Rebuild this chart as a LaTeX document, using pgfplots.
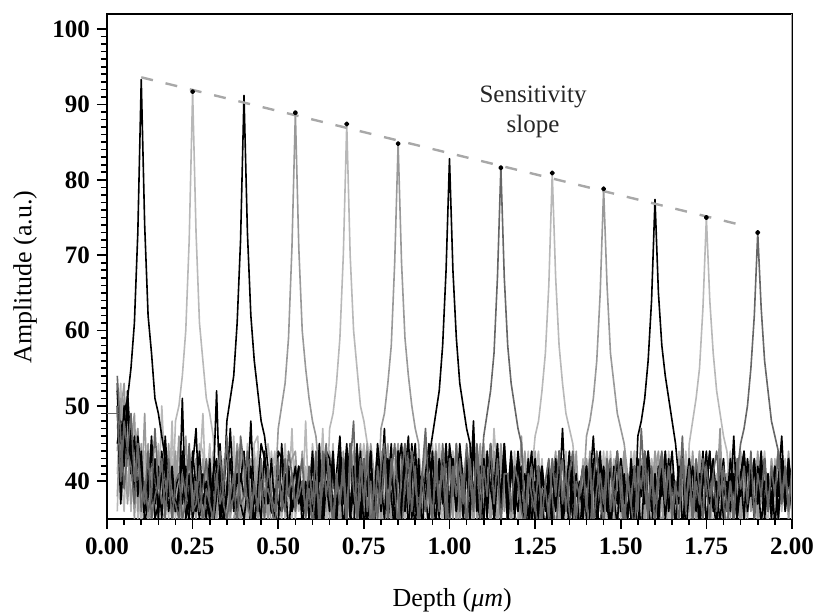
\documentclass[border=0pt]{standalone}
\usepackage{fontspec}
\setmainfont{Liberation Serif}
\usepackage{pgfplots}
\usepackage{pgfplotstable}
\pgfplotsset{compat=1.18}
\definecolor{clight}{HTML}{B8B8B8}
\definecolor{cmid}{HTML}{999999}
\definecolor{cdark}{HTML}{666666}
\definecolor{cdash}{HTML}{A8A8A8}
\pgfplotstableread{
x s1 s2 s3 s4 s5 s6 s7 s8 s9 s10 s11 s12 s13
0.03 52 47 53 44 51 38 50 54 41 49 45 36 50
0.04 45 53 39 51 42 49 37 46 52 43 48 50 40
0.05 49 40 50 46 36 53 44 39 47 51 42 45 48
0.06 51 48 43 37 47 42 50 44 38 46 52 39 44
0.07 55 36 47 45 40 48 41 49 45 37 44 47 42
0.08 61 45 38 49 44 35 46 40 48 42 39 46 37
0.09 73 41 46 36 47 44 38 45 35 47 43 40 45
0.10 93.3 38 41 45 35 39 44 36 40 37 43 34 39
0.11 74 42 36 38 44 37 34 40 39 49 36 41 37
0.12 62 35 43 37 39 45 38 36 42 35 40 38 44
0.13 57 40 37 34 42 36 46 38 35 41 44 39 35
0.14 51 36 43 40 36 41 37 47 38 36 35 42 38
0.15 49 41 35 38 45 35 42 39 43 44 37 36 40
0.16 46 37 44 36 38 41 35 43 34 39 41 50 37
0.17 43 45 37 35 40 38 46 35 41 36 42 40 39
0.18 38 38 42 44 35 37 39 43 36 45 36 37 41
0.19 42 35 36 39 43 36 41 38 48 34 40 44 35
0.20 36 48 39 44 37 42 36 37 35 38 37 43 40
0.21 39 50 41 35 45 36 38 35 42 46 36 34 41
0.22 43 54 37 38 36 35 44 41 38 37 51 39 35
0.23 37 60 42 46 34 39 37 38 43 40 35 41 37
0.24 41 72 36 37 38 43 35 44 36 40 38 37 45
0.25 35 91.7 44 40 36 37 42 36 39 34 41 40 36
0.26 38 73 39 35 42 41 47 37 35 43 36 35 40
0.27 44 61 35 39 37 38 36 42 41 36 40 45 36
0.28 37 56 41 43 35 36 40 34 49 35 38 44 39
0.29 40 51 37 36 39 35 38 39 37 42 35 37 43
0.30 36 49 43 38 45 40 35 37 39 33 41 39 37
0.31 41 46 34 41 37 42 39 35 44 38 36 36 35
0.32 43 39 38 36 40 35 52 40 34 37 42 35 41
0.33 35 41 45 39 35 41 37 44 38 36 42 40 37
0.34 39 36 37 42 39 38 34 37 41 40 35 43 39
0.35 45 40 48 35 44 40 38 35 36 43 39 34 46
0.36 37 42 51 40 41 35 43 38 45 35 47 38 36
0.37 40 44 54 37 44 39 36 41 42 35 38 46 38
0.38 36 39 61 43 35 45 41 33 39 38 41 36 44
0.39 41 37 72 34 39 42 37 46 35 45 40 39 37
0.40 38 43 91.2 39 36 40 35 42 38 34 44 42 38
0.41 42 35 73 41 45 36 39 37 33 40 38 35 44
0.42 33 40 62 37 35 39 48 35 38 43 42 37 36
0.43 39 38 56 43 41 35 37 40 44 37 34 45 39
0.44 36 44 52 35 38 42 38 36 40 35 39 46 37
0.45 42 35 48 38 34 38 35 43 37 41 45 37 40
0.46 37 39 46 41 43 36 44 38 35 38 43 39 35
0.47 40 37 42 36 35 41 37 39 45 35 40 35 42
0.48 38 44 36 40 38 33 43 37 41 39 36 40 38
0.49 35 39 39 38 42 39 36 34 38 42 35 44 36
0.50 44 36 37 47 37 41 34 40 36 35 41 36 43
0.51 43 40 36 50 35 38 45 38 40 37 39 42 36
0.52 37 38 41 53 40 36 38 36 45 39 37 35 43
0.53 41 42 33 59 38 35 42 44 37 41 40 37 38
0.54 36 38 39 71 47 39 37 41 35 43 36 40 41
0.55 39 36 42 88.9 35 41 38 37 40 44 38 43 36
0.56 42 40 37 71 39 37 41 38 36 37 42 38 40
0.57 37 35 40 60 37 44 36 40 39 40 34 36 43
0.58 40 39 36 55 42 38 39 36 41 36 38 48 35
0.59 35 41 38 51 38 40 37 42 37 39 40 36 39
0.60 40 35 44 48 42 33 43 37 45 39 36 41 34
0.61 34 43 37 46 36 41 35 44 39 33 42 38 40
0.62 42 38 34 41 44 37 45 33 36 43 38 45 36
0.63 36 47 41 35 39 43 33 41 43 37 34 40 44
0.64 43 34 44 42 35 36 40 45 34 41 44 33 38
0.65 38 41 38 36 47 44 36 38 42 35 43 39 42
0.66 44 33 42 43 49 39 43 35 37 44 36 45 33
0.67 35 40 36 38 53 40 34 41 40 36 41 35 40
0.68 41 45 43 34 59 36 44 37 33 42 46 42 37
0.69 39 36 33 44 70 43 38 41 40 34 37 34 43
0.70 45 42 40 37 87.4 35 42 33 44 41 43 40 35
0.71 36 34 45 42 70 41 36 45 37 44 35 43 42
0.72 42 43 37 35 60 44 33 39 42 36 39 36 48
0.73 37 38 43 41 55 37 44 35 34 43 45 41 34
0.74 44 33 35 45 50 42 39 43 41 37 33 44 39
0.75 33 41 42 36 48 35 43 37 45 40 42 35 43
0.76 40 45 38 43 45 39 34 44 36 45 38 42 36
0.77 43 36 44 33 41 45 41 33 42 35 44 38 40
0.78 35 40 33 40 36 41 37 40 41 40 36 41 34
0.79 42 37 41 44 43 36 45 35 38 38 43 33 42
0.80 39 44 36 35 34 47 40 42 33 44 37 41 37
0.81 47 33 43 42 40 49 35 45 41 35 45 37 43
0.82 34 41 39 45 44 53 43 36 37 43 40 44 35
0.83 41 35 45 37 35 58 38 43 44 33 42 36 41
0.84 37 43 34 41 42 69 33 39 35 41 37 43 45
0.85 44 39 42 34 45 84.8 42 34 40 45 44 36 38
0.86 36 45 37 43 36 69 45 41 43 38 34 42 33
0.87 42 36 44 39 43 59 36 45 34 42 41 45 40
0.88 38 42 33 45 34 54 43 37 42 36 46 38 43
0.89 45 34 41 36 41 50 38 44 37 44 35 43 36
0.90 36 43 45 42 37 47 34 40 45 34 43 37 42
0.91 43 40 35 33 44 45 41 35 38 43 38 44 34
0.92 33 40 41 41 38 36 40 41 33 39 40 35 41
0.93 41 37 38 45 33 42 37 36 43 45 36 42 47
0.94 45 43 34 37 42 38 43 41 35 37 43 33 38
0.95 37 35 44 43 36 44 46 34 42 41 40 45 35
0.96 42 41 37 34 45 35 49 44 36 44 34 39 42
0.97 35 45 43 40 39 43 52 37 45 35 42 43 36
0.98 44 36 40 44 34 41 58 42 38 43 37 36 45
0.99 39 42 33 36 43 45 68 35 43 38 45 42 39
1.00 34 38 45 42 37 36 82.8 43 34 44 36 44 33
1.01 43 44 41 35 44 43 68 38 41 36 43 37 42
1.02 36 34 36 45 38 34 59 45 37 42 38 45 38
1.03 45 41 43 38 35 42 53 36 44 34 44 35 43
1.04 40 41 35 41 40 37 50 41 35 40 36 41 37
1.05 33 37 44 36 41 44 47 34 43 39 42 44 45
1.06 42 45 38 44 33 39 45 43 38 44 35 38 40
1.07 37 35 48 34 43 45 38 37 45 35 45 34 36
1.08 44 42 36 41 37 35 43 45 36 42 39 43 44
1.09 35 38 42 45 44 43 36 39 43 37 34 40 35
1.10 43 45 34 37 40 38 42 46 34 45 43 35 42
1.11 38 36 44 42 35 44 35 49 42 40 37 44 38
1.12 45 43 39 35 43 36 44 52 37 34 44 36 45
1.13 34 40 36 44 38 42 39 57 47 43 35 42 37
1.14 41 33 43 38 45 34 45 67 40 37 42 45 43
1.15 37 44 35 45 36 43 37 81.6 35 44 38 37 34
1.16 44 37 45 40 42 38 43 67 43 36 45 43 41
1.17 36 40 38 34 35 41 34 58 38 40 37 38 41
1.18 43 35 44 42 44 36 42 53 44 34 43 35 36
1.19 39 41 37 36 38 42 38 50 36 41 35 44 42
1.20 36 40 43 33 42 37 44 47 32 39 41 35 40
1.21 41 34 38 40 35 46 39 45 40 33 42 37 36
1.22 37 42 33 44 39 36 41 35 43 40 36 39 34
1.23 43 36 40 37 32 41 35 41 36 42 34 44 39
1.24 34 41 44 35 38 44 40 38 41 37 39 33 42
1.25 40 37 35 42 41 33 43 36 46 44 35 40 37
1.26 36 43 39 38 44 40 34 42 48 35 42 38 33
1.27 42 33 42 34 36 38 41 35 52 40 38 43 39
1.28 38 40 36 39 33 39 37 40 57 39 33 36 39
1.29 33 43 41 36 40 35 42 43 66 37 40 41 35
1.30 41 36 34 43 37 40 35 38 80.9 33 42 37 43
1.31 37 41 43 39 34 44 39 33 67 41 36 34 38
1.32 44 35 38 33 42 37 43 39 58 36 41 40 44
1.33 35 39 47 40 38 33 36 43 53 39 34 43 37
1.34 40 43 37 36 44 39 40 36 49 42 38 35 41
1.35 36 34 41 42 35 43 33 41 47 35 44 39 36
1.36 43 38 35 37 40 36 42 44 45 40 37 42 33
1.37 34 42 40 44 33 41 38 35 40 36 41 36 40
1.38 39 36 39 35 40 34 40 39 37 39 33 40 38
1.39 42 40 36 39 37 42 35 42 43 38 39 37 42
1.40 35 33 42 43 43 38 41 37 35 46 42 33 36
1.41 40 41 37 34 39 44 36 33 40 48 35 41 43
1.42 46 37 33 41 35 36 43 40 42 51 40 38 34
1.43 37 42 41 36 42 40 34 44 36 56 37 44 39
1.44 33 38 44 40 36 43 39 38 33 65 43 36 41
1.45 41 44 36 35 41 35 42 34 41 78.8 36 40 37
1.46 36 35 40 43 33 39 37 41 44 66 41 34 43
1.47 42 39 34 38 44 42 33 43 38 57 34 42 36
1.48 38 43 42 33 38 37 40 36 35 53 39 38 40
1.49 34 36 37 41 42 33 44 40 42 49 43 35 44
1.50 43 41 43 36 35 40 36 42 37 47 37 43 38
1.51 37 34 39 44 40 44 41 35 43 45 35 39 33
1.52 40 40 35 39 34 38 35 40 36 41 40 36 41
1.53 35 38 41 35 43 41 43 37 40 36 38 44 37
1.54 42 44 36 42 37 34 38 33 44 40 34 40 42
1.55 39 37 43 37 41 43 33 42 38 35 46 35 36
1.56 33 41 38 40 35 39 42 39 34 43 48 42 47
1.57 41 35 44 34 42 36 37 44 41 38 51 37 39
1.58 44 40 37 43 38 42 44 36 37 42 56 33 35
1.59 36 43 33 38 33 37 39 41 43 35 64 41 42
1.60 40 36 41 42 44 44 35 34 39 41 77.4 38 37
1.61 34 42 36 35 39 40 42 40 35 44 65 43 41
1.62 42 37 42 41 36 33 38 43 42 37 58 36 44
1.63 38 44 35 44 42 41 44 37 36 33 54 40 38
1.64 43 39 40 37 37 36 36 42 44 40 51 34 42
1.65 35 33 44 40 43 43 41 35 38 43 48 42 36
1.66 40 39 37 33 35 38 34 39 33 36 45 37 40
1.67 37 36 42 43 41 42 40 38 42 42 40 44 34
1.68 43 42 34 38 38 35 43 46 37 35 44 39 43
1.69 33 38 39 42 44 41 37 36 41 41 36 35 37
1.70 39 44 43 36 34 37 42 42 35 38 43 45 41
1.71 42 35 36 41 40 43 35 34 43 44 37 48 36
1.72 36 40 41 34 37 39 41 40 39 37 42 51 43
1.73 41 37 33 43 43 44 38 37 44 33 35 55 39
1.74 35 43 40 37 36 36 44 43 36 40 41 63 35
1.75 40 34 44 40 42 40 34 39 41 43 38 75.0 42
1.76 44 39 37 35 39 33 40 35 37 36 44 64 38
1.77 37 42 42 42 33 42 43 41 43 42 36 57 41
1.78 34 36 35 38 41 38 37 44 34 38 40 52 36
1.79 42 41 39 44 37 43 41 38 40 47 34 49 43
1.80 38 33 43 39 43 37 35 42 37 35 42 46 37
1.81 40 40 36 33 36 41 39 36 39 41 37 44 33
1.82 36 44 41 42 40 35 38 40 38 37 43 38 40
1.83 41 37 34 37 35 43 46 34 43 43 39 42 36
1.84 35 42 42 43 42 38 36 43 36 39 35 36 41
1.85 40 35 38 36 38 44 41 39 40 34 41 40 45
1.86 44 39 43 41 33 37 35 42 35 42 44 34 47
1.87 37 43 37 35 41 42 43 37 41 38 36 41 50
1.88 42 36 40 42 37 36 38 44 37 43 40 37 55
1.89 36 41 35 38 43 41 42 35 43 36 43 43 62
1.90 41 34 42 44 36 35 37 41 38 40 37 36 73.0
1.91 34 42 38 37 42 43 44 38 33 44 42 40 63
1.92 40 37 43 41 38 38 36 43 40 37 35 44 56
1.93 40 41 36 36 34 40 41 36 39 41 40 37 52
1.94 37 35 41 43 43 36 35 42 37 35 38 42 48
1.95 42 43 34 39 37 41 42 38 42 42 41 35 46
1.96 35 38 40 34 41 44 38 44 35 38 36 41 44
1.97 41 44 46 42 36 37 43 37 41 43 42 38 38
1.98 38 36 37 38 42 42 36 41 37 36 37 43 42
1.99 43 40 42 44 35 35 40 36 43 42 43 36 37
2.00 36 42 36 37 41 41 42 42 38 39 38 40 41
}\noise

\begin{document}
\begin{tikzpicture}
\begin{axis}[
  at={(0,0)}, anchor=south west,
  width=342.5pt, height=252.5pt, scale only axis,
  xmin=0, xmax=2, ymin=35, ymax=102,
  xtick={0,0.25,0.5,0.75,1,1.25,1.5,1.75,2},
  minor x tick num=4,
  ytick={40,50,60,70,80,90,100},
  minor y tick num=9,
  xtick pos=left, ytick pos=left,
  tick align=outside,
  major tick length=5pt, minor tick length=3pt,
  every tick/.style={black, line width=0.8pt},
  axis line style={line width=1pt},
  /pgf/number format/assume math mode=true,
  xticklabel style={font=\bfseries\fontsize{12.5}{15}\selectfont, yshift=-1pt,
    /pgf/number format/fixed, /pgf/number format/fixed zerofill,
    /pgf/number format/precision=2},
  yticklabel style={font=\bfseries\fontsize{12.5}{15}\selectfont},
  xlabel={Depth (\textit{μm})},
  ylabel={Amplitude (a.u.)},
  every axis x label/.style={at={(axis description cs:0.504,-0.160)}, anchor=center, font=\fontsize{13}{15}\selectfont},
  every axis y label/.style={at={(axis description cs:-0.1197,0.479)}, anchor=center, rotate=90, font=\fontsize{13}{15}\selectfont},
  every axis plot/.append style={line width=0.8pt, line join=round},
]
\addplot[clight] table[x=x,y=s2] {\noise};
\addplot[clight] table[x=x,y=s5] {\noise};
\addplot[clight] table[x=x,y=s9] {\noise};
\addplot[clight] table[x=x,y=s12] {\noise};
\addplot[cmid] table[x=x,y=s4] {\noise};
\addplot[cmid] table[x=x,y=s6] {\noise};
\addplot[cmid] table[x=x,y=s10] {\noise};
\addplot[black] table[x=x,y=s1] {\noise};
\addplot[black] table[x=x,y=s3] {\noise};
\addplot[black] table[x=x,y=s7] {\noise};
\addplot[black] table[x=x,y=s11] {\noise};
\addplot[cdark] table[x=x,y=s8] {\noise};
\addplot[cdark] table[x=x,y=s13] {\noise};
\addplot[cdark] coordinates {(0,49) (0.038,49)};
\addplot[cdash, line width=1.2pt, dash pattern=on 6pt off 6.5pt] coordinates {(0.10,93.6) (1.87,73.8)};
\addplot[only marks, mark=*, mark size=0.9pt, black] coordinates {(0.25,91.7) (0.55,88.9) (0.70,87.4) (0.85,84.8) (1.15,81.6) (1.30,80.9) (1.45,78.8) (1.75,75.0) (1.90,73.0)};
\node[font=\fontsize{12.5}{15}\selectfont, align=center, text=black!85] at (axis cs:1.244,89.0) {Sensitivity\\slope};
\draw[gray!70, line width=1pt] (rel axis cs:1,0) -- (rel axis cs:1,1);
\end{axis}
\pgfresetboundingbox
\path (-53.5pt,-47pt) rectangle (354.5pt,259.5pt);
\end{tikzpicture}
\end{document}
